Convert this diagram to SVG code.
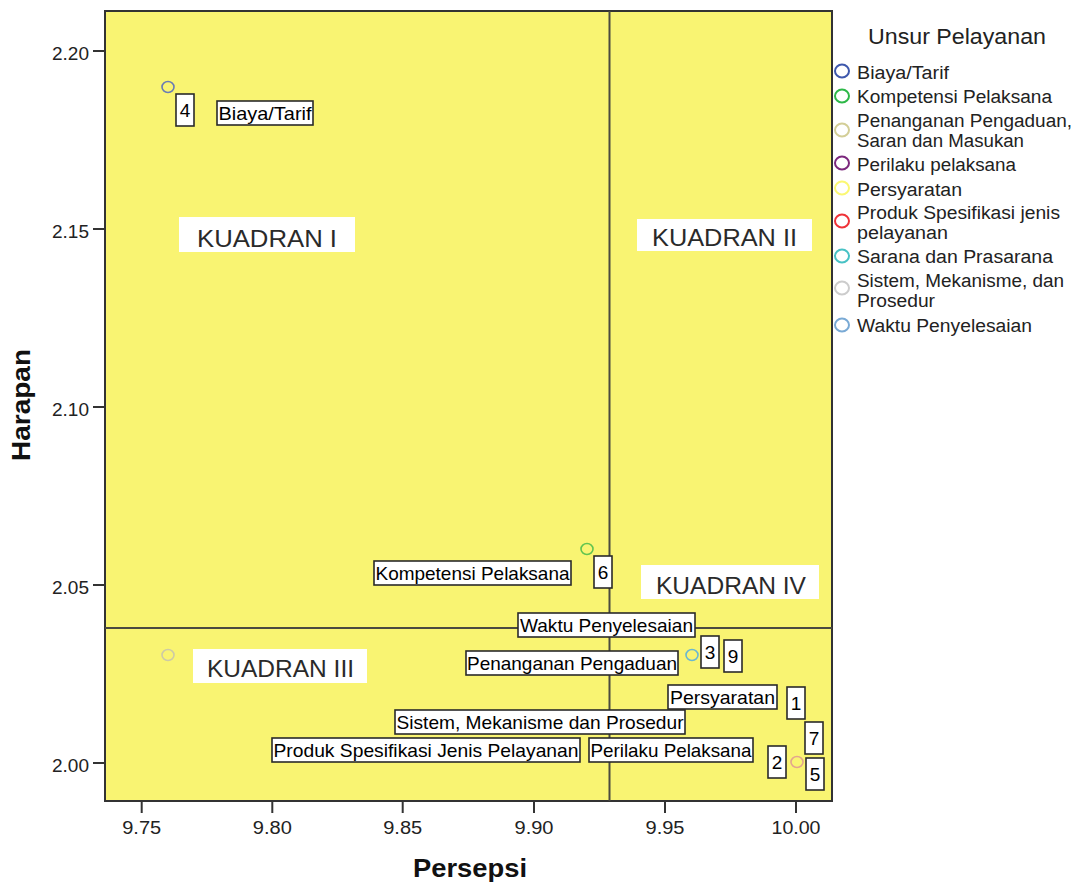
<svg xmlns="http://www.w3.org/2000/svg" width="1078" height="883" viewBox="0 0 1078 883">
<style>
.tick{stroke:#333;stroke-width:2}
.tl{font-family:"Liberation Sans",Arial,sans-serif;font-size:18px;fill:#222}
.ax{font-family:"Liberation Sans",Arial,sans-serif;font-size:25px;font-weight:bold;fill:#111}
.qbox{fill:#fff}
.qt{font-family:"Liberation Sans",Arial,sans-serif;font-size:23px;fill:#2a2a2a;text-anchor:middle}
.lb{fill:#fff;stroke:#2a2a2a;stroke-width:1.6}
.lt{font-family:"Liberation Sans",Arial,sans-serif;font-size:19px;fill:#000;text-anchor:middle}
.pt{fill:none;stroke-width:1.6}
.lg{fill:none;stroke-width:2}
.legt{font-family:"Liberation Sans",Arial,sans-serif;font-size:18px;fill:#222}
.ref{stroke:#4a4a40;stroke-width:2}
</style>
<rect width="1078" height="883" fill="#fff"/>
<g id="plot-area">
<rect x="105" y="11" width="727" height="790" fill="#f9f472" stroke="#333" stroke-width="2"/>
</g>
<g id="axes">
<line class="tick" x1="93" y1="51" x2="105" y2="51"/>
<line class="tick" x1="93" y1="229" x2="105" y2="229"/>
<line class="tick" x1="93" y1="407" x2="105" y2="407"/>
<line class="tick" x1="93" y1="585" x2="105" y2="585"/>
<line class="tick" x1="93" y1="763" x2="105" y2="763"/>
<text class="tl" x="89" y="60" text-anchor="end" textLength="37" lengthAdjust="spacingAndGlyphs">2.20</text>
<text class="tl" x="89" y="238" text-anchor="end" textLength="37" lengthAdjust="spacingAndGlyphs">2.15</text>
<text class="tl" x="89" y="416" text-anchor="end" textLength="37" lengthAdjust="spacingAndGlyphs">2.10</text>
<text class="tl" x="89" y="594" text-anchor="end" textLength="37" lengthAdjust="spacingAndGlyphs">2.05</text>
<text class="tl" x="89" y="772" text-anchor="end" textLength="37" lengthAdjust="spacingAndGlyphs">2.00</text>
<line class="tick" x1="141.7" y1="801" x2="141.7" y2="813"/>
<line class="tick" x1="272.3" y1="801" x2="272.3" y2="813"/>
<line class="tick" x1="402.7" y1="801" x2="402.7" y2="813"/>
<line class="tick" x1="534" y1="801" x2="534" y2="813"/>
<line class="tick" x1="665" y1="801" x2="665" y2="813"/>
<line class="tick" x1="796" y1="801" x2="796" y2="813"/>
<text class="tl" x="141.7" y="834" text-anchor="middle" textLength="39" lengthAdjust="spacingAndGlyphs">9.75</text>
<text class="tl" x="272.3" y="834" text-anchor="middle" textLength="39" lengthAdjust="spacingAndGlyphs">9.80</text>
<text class="tl" x="402.7" y="834" text-anchor="middle" textLength="39" lengthAdjust="spacingAndGlyphs">9.85</text>
<text class="tl" x="534" y="834" text-anchor="middle" textLength="39" lengthAdjust="spacingAndGlyphs">9.90</text>
<text class="tl" x="665" y="834" text-anchor="middle" textLength="39" lengthAdjust="spacingAndGlyphs">9.95</text>
<text class="tl" x="796" y="834" text-anchor="middle" textLength="49" lengthAdjust="spacingAndGlyphs">10.00</text>
<text class="ax" x="470" y="877" text-anchor="middle" textLength="114" lengthAdjust="spacingAndGlyphs">Persepsi</text>
<text class="ax" transform="translate(30,405) rotate(-90)" text-anchor="middle" textLength="112" lengthAdjust="spacingAndGlyphs">Harapan</text>
</g>
<g id="connectors">
<line class="ref" x1="609.5" y1="11" x2="609.5" y2="801"/>
<line class="ref" x1="105" y1="628" x2="832" y2="628"/>
</g>
<g id="points">
<ellipse class="pt" cx="168" cy="87" rx="6" ry="5.5" stroke="#6a7cb4"/>
<ellipse class="pt" cx="587" cy="549" rx="6" ry="5.5" stroke="#62c450"/>
<ellipse class="pt" cx="168" cy="655" rx="6" ry="5.5" stroke="#cdcaa6"/>
<ellipse class="pt" cx="692" cy="655" rx="6" ry="5.5" stroke="#6ab8d0"/>
<ellipse class="pt" cx="797" cy="762" rx="6" ry="5.5" stroke="#e3a58e"/>
</g>
<g id="quadrants">
<g id="kuadran-1"><rect class="qbox" x="179" y="217" width="176" height="35"/><text class="qt" x="267" y="247" textLength="140" lengthAdjust="spacingAndGlyphs">KUADRAN I</text></g>
<g id="kuadran-2"><rect class="qbox" x="637" y="219" width="175" height="32"/><text class="qt" x="724.5" y="246" textLength="145" lengthAdjust="spacingAndGlyphs">KUADRAN II</text></g>
<g id="kuadran-3"><rect class="qbox" x="193" y="649" width="174" height="34"/><text class="qt" x="280.5" y="677" textLength="147" lengthAdjust="spacingAndGlyphs">KUADRAN III</text></g>
<g id="kuadran-4"><rect class="qbox" x="641" y="565" width="178" height="34"/><text class="qt" x="731" y="594" textLength="150" lengthAdjust="spacingAndGlyphs">KUADRAN IV</text></g>
</g>
<g id="labels">
<g id="lbl-4"><rect class="lb" x="176" y="94" width="18" height="32"/><text class="lt" x="185" y="117">4</text></g>
<g id="lbl-biaya"><rect class="lb" x="217" y="101" width="96" height="24"/><text class="lt" x="265" y="120" textLength="93" lengthAdjust="spacingAndGlyphs">Biaya/Tarif</text></g>
<g id="lbl-kompetensi"><rect class="lb" x="374" y="561" width="197" height="24"/><text class="lt" x="472.5" y="580" textLength="194" lengthAdjust="spacingAndGlyphs">Kompetensi Pelaksana</text></g>
<g id="lbl-6"><rect class="lb" x="594" y="556" width="18" height="32"/><text class="lt" x="603" y="579">6</text></g>
<g id="lbl-waktu"><rect class="lb" x="518" y="613" width="177" height="24"/><text class="lt" x="606.5" y="632" textLength="173" lengthAdjust="spacingAndGlyphs">Waktu Penyelesaian</text></g>
<g id="lbl-penanganan"><rect class="lb" x="466" y="651" width="212" height="24"/><text class="lt" x="572" y="670" textLength="210" lengthAdjust="spacingAndGlyphs">Penanganan Pengaduan</text></g>
<g id="lbl-3"><rect class="lb" x="701" y="636" width="18" height="32"/><text class="lt" x="710" y="659">3</text></g>
<g id="lbl-9"><rect class="lb" x="724" y="640" width="18" height="32"/><text class="lt" x="733" y="663">9</text></g>
<g id="lbl-persyaratan"><rect class="lb" x="668" y="685" width="109" height="24"/><text class="lt" x="722.5" y="704" textLength="105" lengthAdjust="spacingAndGlyphs">Persyaratan</text></g>
<g id="lbl-1"><rect class="lb" x="787" y="687" width="18" height="32"/><text class="lt" x="796" y="710">1</text></g>
<g id="lbl-sistem"><rect class="lb" x="395" y="710" width="290" height="24"/><text class="lt" x="540" y="729" textLength="287" lengthAdjust="spacingAndGlyphs">Sistem, Mekanisme dan Prosedur</text></g>
<g id="lbl-7"><rect class="lb" x="805" y="722" width="18" height="32"/><text class="lt" x="814" y="745">7</text></g>
<g id="lbl-produk"><rect class="lb" x="272" y="738" width="308" height="24"/><text class="lt" x="426" y="757" textLength="305" lengthAdjust="spacingAndGlyphs">Produk Spesifikasi Jenis Pelayanan</text></g>
<g id="lbl-perilaku"><rect class="lb" x="589" y="738" width="164" height="24"/><text class="lt" x="671" y="757" textLength="161" lengthAdjust="spacingAndGlyphs">Perilaku Pelaksana</text></g>
<g id="lbl-2"><rect class="lb" x="768" y="746" width="18" height="32"/><text class="lt" x="777" y="769">2</text></g>
<g id="lbl-5"><rect class="lb" x="806" y="758" width="18" height="32"/><text class="lt" x="815" y="781">5</text></g>
</g>
<g id="legend">
<text class="legt" x="868" y="44" style="font-size:22px" textLength="178" lengthAdjust="spacingAndGlyphs">Unsur Pelayanan</text>
<ellipse class="lg" cx="842" cy="71" rx="7" ry="6.5" stroke="#3e58ac"/>
<text class="legt" x="857" y="79" textLength="92" lengthAdjust="spacingAndGlyphs">Biaya/Tarif</text>
<ellipse class="lg" cx="842" cy="96" rx="7" ry="6.5" stroke="#2eb848"/>
<text class="legt" x="857" y="103" textLength="195" lengthAdjust="spacingAndGlyphs">Kompetensi Pelaksana</text>
<ellipse class="lg" cx="842" cy="130" rx="7" ry="6.5" stroke="#d3ce97"/>
<text class="legt" x="857" y="127" textLength="215" lengthAdjust="spacingAndGlyphs">Penanganan Pengaduan,</text>
<text class="legt" x="857" y="147" textLength="167" lengthAdjust="spacingAndGlyphs">Saran dan Masukan</text>
<ellipse class="lg" cx="842" cy="163" rx="7" ry="6.5" stroke="#7c287d"/>
<text class="legt" x="857" y="171" textLength="159" lengthAdjust="spacingAndGlyphs">Perilaku pelaksana</text>
<ellipse class="lg" cx="842" cy="188" rx="7" ry="6.5" stroke="#fbf873"/>
<text class="legt" x="857" y="196" textLength="105" lengthAdjust="spacingAndGlyphs">Persyaratan</text>
<ellipse class="lg" cx="842" cy="221" rx="7" ry="6.5" stroke="#ef3338"/>
<text class="legt" x="857" y="219" textLength="203" lengthAdjust="spacingAndGlyphs">Produk Spesifikasi jenis</text>
<text class="legt" x="857" y="239" textLength="91" lengthAdjust="spacingAndGlyphs">pelayanan</text>
<ellipse class="lg" cx="842" cy="256" rx="7" ry="6.5" stroke="#48c2c5"/>
<text class="legt" x="857" y="263" textLength="196" lengthAdjust="spacingAndGlyphs">Sarana dan Prasarana</text>
<ellipse class="lg" cx="842" cy="288" rx="7" ry="6.5" stroke="#cccccc"/>
<text class="legt" x="857" y="287" textLength="207" lengthAdjust="spacingAndGlyphs">Sistem, Mekanisme, dan</text>
<text class="legt" x="857" y="307" textLength="78" lengthAdjust="spacingAndGlyphs">Prosedur</text>
<ellipse class="lg" cx="842" cy="325" rx="7" ry="6.5" stroke="#7aaad5"/>
<text class="legt" x="857" y="332" textLength="175" lengthAdjust="spacingAndGlyphs">Waktu Penyelesaian</text>
</g>
</svg>
